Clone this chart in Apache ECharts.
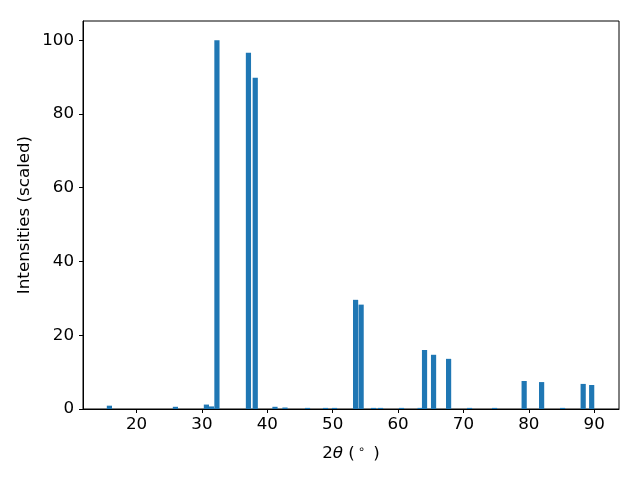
<!DOCTYPE html>
<html>
<head>
<meta charset="utf-8">
<script src="https://cdn.jsdelivr.net/npm/echarts@6/dist/echarts.min.js"></script>
<style>html,body{margin:0;padding:0;background:#fff;}#c{width:640px;height:480px;}</style>
</head>
<body>
<div id="c"></div>
<script>
const twoTheta = [15.84, 25.94, 30.68, 31.45, 32.29, 37.11, 38.15, 41.17, 42.7, 46.15, 48.9, 50.28, 53.5, 54.35, 56.25, 57.32, 60.53, 63.37, 64.05, 65.43, 67.73, 70.94, 74.77, 79.29, 81.96, 85.17, 88.32, 89.62];
const intensities = [0.9, 0.6, 1.2, 0.7, 100, 96.6, 89.8, 0.6, 0.4, 0.3, 0.3, 0.3, 29.6, 28.3, 0.3, 0.3, 0.3, 0.3, 16.0, 14.7, 13.6, 0.3, 0.3, 7.6, 7.3, 0.3, 6.8, 6.5];
const xTicks = [20, 30, 40, 50, 60, 70, 80, 90];
const yTicks = [0, 20, 40, 60, 80, 100];

const chart = echarts.init(document.getElementById('c'), null, {renderer: 'canvas'});
const font = 'DejaVu Sans';
const fs = 16.7;
chart.setOption({
  animation: false,
  backgroundColor: '#fff',
  grid: {left: 83, right: 21, top: 21, bottom: 71, show: true, borderColor: '#000', borderWidth: 1, backgroundColor: 'transparent'},
  xAxis: {
    type: 'value', min: 11.8, max: 93.8,
    splitLine: {show: false},
    axisLine: {show: true, onZero: false, lineStyle: {color: '#000', width: 1}},
    axisTick: {show: true, inside: false, length: 4, customValues: xTicks, lineStyle: {color: '#000'}},
    axisLabel: {customValues: xTicks, color: '#000', fontFamily: font, fontSize: fs, margin: 7},
    name: '{a|2}{b|θ}{a| (}{s|∘}{a| )}',
    nameLocation: 'middle', nameGap: 35, nameMoveOverlap: false,
    nameTextStyle: {
      fontFamily: font, fontSize: fs, color: '#000',
      rich: {
        a: {fontFamily: font, fontSize: fs, color: '#000'},
        b: {fontFamily: font, fontSize: fs, color: '#000', fontStyle: 'italic'},
        s: {fontFamily: font, fontSize: 11.5, color: '#000', verticalAlign: 'top', padding: [0, 3, 7, 3]}
      }
    }
  },
  yAxis: {
    type: 'value', min: 0, max: 105.2,
    splitLine: {show: false},
    axisLine: {show: true, lineStyle: {color: '#000', width: 1}},
    axisTick: {show: true, inside: false, length: 4, customValues: yTicks, lineStyle: {color: '#000'}},
    axisLabel: {customValues: yTicks, color: '#000', fontFamily: font, fontSize: fs, margin: 9},
    name: 'Intensities (scaled)',
    nameLocation: 'middle', nameGap: 50, nameMoveOverlap: false,
    nameTextStyle: {fontFamily: font, fontSize: fs, color: '#000'}
  },
  series: [{
    type: 'bar',
    data: twoTheta.map((x, i) => [x, intensities[i]]),
    barWidth: 5.2,
    itemStyle: {color: '#1f77b4'}
  }]
});
</script>
</body>
</html>
